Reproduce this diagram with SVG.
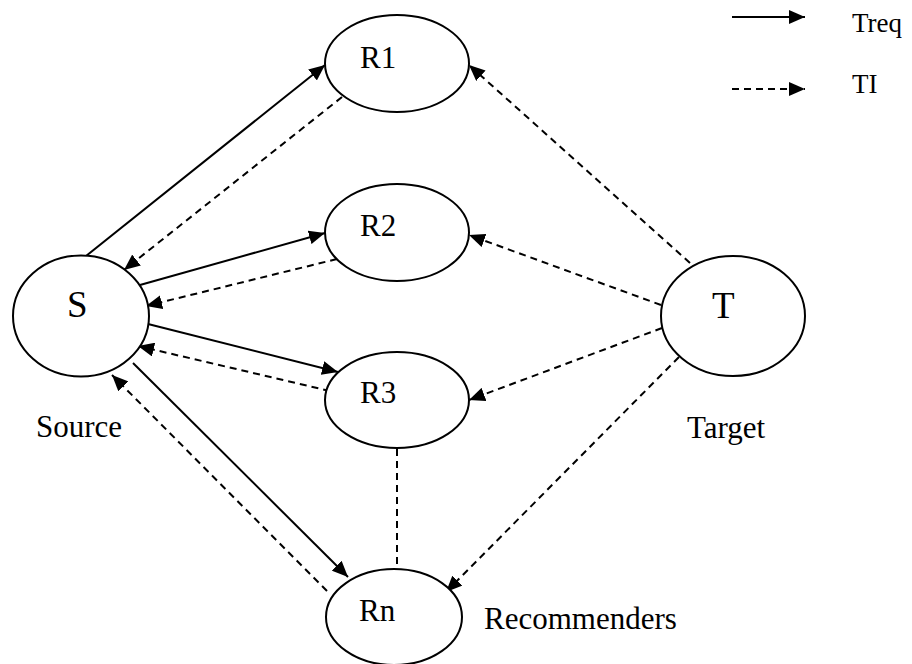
<svg xmlns="http://www.w3.org/2000/svg" width="912" height="664" viewBox="0 0 912 664">
<style>
.node ellipse{fill:#fff;stroke:#000;stroke-width:2}
text{font-family:"Liberation Serif","Times New Roman",serif;fill:#000}
.lbl{font-size:31px}
.big{font-size:37px}
.leg{font-size:27px}
.solid{stroke:#000;stroke-width:2;fill:none}
.dash{stroke:#000;stroke-width:2;fill:none;stroke-dasharray:7 5}
</style>
<defs>
<marker id="ah" markerUnits="userSpaceOnUse" markerWidth="16" markerHeight="14" refX="16" refY="7" orient="auto">
<path d="M0,0 L16,7 L0,14 z" fill="#000"/>
</marker>
</defs>
<rect width="912" height="664" fill="#fff"/>
<g id="connectors">
<line class="solid" x1="86" y1="256" x2="325" y2="65" marker-end="url(#ah)"/>
<line class="dash" x1="342" y1="97" x2="124" y2="270" marker-end="url(#ah)"/>
<line class="dash" x1="690" y1="263" x2="469" y2="65" marker-end="url(#ah)"/>
<line class="solid" x1="140" y1="285" x2="325" y2="233" marker-end="url(#ah)"/>
<line class="dash" x1="337" y1="259" x2="146" y2="306" marker-end="url(#ah)"/>
<line class="dash" x1="661" y1="305" x2="469" y2="235" marker-end="url(#ah)"/>
<line class="solid" x1="148" y1="324" x2="338" y2="372" marker-end="url(#ah)"/>
<line class="dash" x1="330" y1="391" x2="138" y2="346" marker-end="url(#ah)"/>
<line class="dash" x1="662" y1="328" x2="469" y2="400" marker-end="url(#ah)"/>
<line class="solid" x1="133" y1="363" x2="348" y2="577" marker-end="url(#ah)"/>
<line class="dash" x1="327" y1="591" x2="112" y2="375" marker-end="url(#ah)"/>
<line class="dash" x1="679" y1="357" x2="446" y2="592" marker-end="url(#ah)"/>
<line class="dash" x1="397" y1="449" x2="397" y2="568"/>
</g>
<g id="S" class="node"><ellipse cx="81" cy="316" rx="68" ry="60.5"/><text class="big" x="67" y="317">S</text></g>
<g id="T" class="node"><ellipse cx="733" cy="316" rx="72" ry="60"/><text class="big" x="712" y="318">T</text></g>
<g id="R1" class="node"><ellipse cx="397" cy="63.5" rx="72" ry="48.5"/><text class="lbl" x="360" y="68">R1</text></g>
<g id="R2" class="node"><ellipse cx="397" cy="232.5" rx="72" ry="48.5"/><text class="lbl" x="360" y="236">R2</text></g>
<g id="R3" class="node"><ellipse cx="397" cy="400" rx="72" ry="48"/><text class="lbl" x="360" y="403">R3</text></g>
<g id="Rn" class="node"><ellipse cx="394" cy="617" rx="68" ry="48"/><text class="lbl" x="359" y="621">Rn</text></g>
<g id="labels">
<text class="lbl" x="36" y="437">Source</text>
<text class="lbl" x="687" y="438">Target</text>
<text class="lbl" x="484" y="629">Recommenders</text>
</g>
<g id="legend">
<line class="solid" x1="732" y1="17" x2="805" y2="17" marker-end="url(#ah)"/>
<line class="dash" x1="732" y1="89" x2="805" y2="89" marker-end="url(#ah)"/>
<text class="leg" x="852" y="32">Treq</text>
<text class="leg" x="852" y="93">TI</text>
</g>
</svg>
